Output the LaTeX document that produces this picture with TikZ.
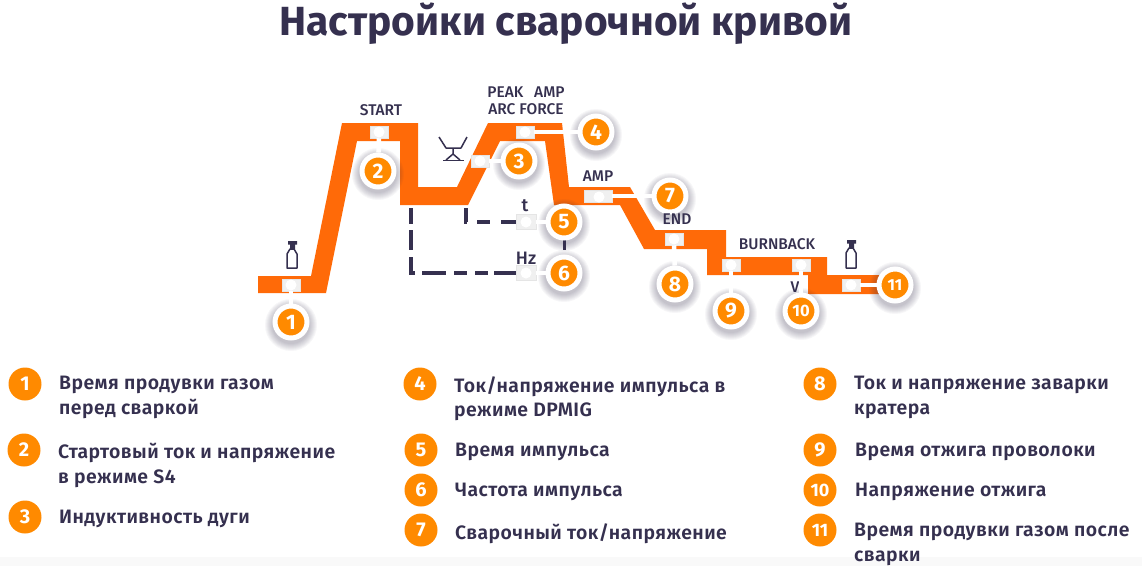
\documentclass[tikz,border=0pt]{standalone}
\usepackage{fontspec}
\setmainfont{Fira Sans}
\newfontfamily\legendf[LetterSpace=2.3,UprightFont=* SemiBold]{Fira Sans}
\newfontfamily\tagf[UprightFont=* Medium]{Fira Sans}
\definecolor{ink}{HTML}{35304F}
\definecolor{curve}{HTML}{FF6A08}
\definecolor{badge}{HTML}{FF8A00}
\tikzset{
  x=1pt,y=-1pt,
  callout/.style={circle,fill=badge,draw=white,line width=5pt,minimum size=32pt,inner sep=0pt,text=white,
    font=\fontsize{21}{21}\selectfont\bfseries},
  legendnum/.style={circle,fill=badge,minimum size=33pt,inner sep=0pt,text=white,font=\fontsize{20}{20}\selectfont\bfseries},
  legendtext/.style={anchor=north west,inner sep=0pt,text=ink,align=left,font=\legendf\fontsize{19.4}{24.5}\selectfont},
  tag/.style={text=ink,inner sep=0pt,font=\tagf\fontsize{15.5}{18}\selectfont},
  port/.style={rectangle,fill=black!6,draw=black!10,line width=.5pt,minimum width=18pt,minimum height=12pt,inner sep=0pt},
  stem/.style={draw=white,line width=4.5pt},
  dashline/.style={draw=ink,line width=3.4pt},
  icon/.style={draw=ink,line width=1.5pt,line join=round},
}
\newcommand{\portdot}[1]{\fill[white] (#1) circle (5.5pt);}
\newcommand{\halo}[2]{\foreach \r in {19,20,...,26}{\fill[ink,opacity=.04] (#1,#2+3) circle (\r pt);}}
\begin{document}
\begin{tikzpicture}
\useasboundingbox (0,0) rectangle (1142,566);
\fill[white] (0,0) rectangle (1142,566);
\fill[black!2.5] (0,557) rectangle (1142,566);

\node[text=ink,font=\fontsize{40.7}{41}\bfseries\selectfont] (title) at (566,24) {Настройки сварочной кривой};

% dashed links (behind)
\coordinate (d1) at (411,208);
\coordinate (d2) at (466,208);
\node[port,minimum width=20pt,minimum height=15pt] (p5) at (526,222) {};
\node[port,minimum width=20pt,minimum height=15pt] (p6) at (526,273) {};
\draw[dashline,dash pattern=on 16pt off 6pt on 20pt off 7pt on 20pt off 7pt on 24pt off 8pt on 13pt off 8pt on 13pt off 6pt on 14pt off 0pt] (d1) |- (p6.west);
\draw[dashline,dash pattern=on 15pt off 10pt on 13pt off 11pt on 13pt off 0pt] (d2) |- (p5.west);

% welding curve
\fill[curve] (258,276) -- (311,276) -- (342,123) -- (418,123) -- (418,187) -- (457,187) -- (488,123) -- (562,123) -- (569,187) -- (630,187) -- (655,230) -- (726,230) -- (726,257) -- (827,257) -- (827,275) -- (880,275) -- (880,294) -- (808,294) -- (808,275) -- (707,275) -- (707,249) -- (644,249) -- (620,205) -- (554,205) -- (545,141) -- (500,141) -- (468,205) -- (400,205) -- (400,141) -- (357,141) -- (326,293) -- (258,293) -- cycle;

% ports
\node[port] (p1) at (291,285) {};
\node[port] (p2) at (379,132) {};
\node[port] (p3) at (480,161) {};
\node[port] (p4) at (525,132) {};
\node[port,minimum width=28pt] (p7) at (598,196) {};
\node[port] (p8) at (674,239) {};
\node[port] (p9) at (731,265) {};
\node[port] (p10) at (801,265) {};
\node[port] (p11) at (851,285) {};

\node[tag] (vv) at (795,287) {V};

% callouts
\halo{291}{322}\node[callout] (c1) at (291,322) {1};
\halo{378}{171}\node[callout] (c2) at (378,171) {2};
\halo{519}{161}\node[callout] (c3) at (519,161) {3};
\halo{596}{132}\node[callout] (c4) at (596,132) {4};
\draw[draw=ink,line width=3pt] (564,238) -- (564,250);
\halo{564}{222}\node[callout] (c5) at (564,222) {5};
\halo{564}{273}\node[callout] (c6) at (564,273) {6};
\halo{670}{196}\node[callout] (c7) at (670,196) {7};
\halo{675}{284}\node[callout] (c8) at (675,284) {8};
\halo{731}{311}\node[callout] (c9) at (731,311) {9};
\halo{801}{311}\node[callout,font=\fontsize{16.5}{16.5}\selectfont\bfseries] (c10) at (801,311) {10};
\halo{895}{285}\node[callout,font=\fontsize{16}{16}\selectfont\bfseries] (c11) at (895,285) {11};

% stems
\draw[stem] (p1) -- (c1);
\draw[stem] (p2) -- (c2);
\draw[stem] (p3) -- (c3);
\draw[stem] (p4) -- (c4);
\draw[stem] (p5) -- (c5);
\draw[stem] (p6) -- (c6);
\draw[stem] (p7) -- (c7);
\draw[stem] (p8) -- (c8);
\draw[stem] (p9) -- (c9);
\draw[stem] (p10) -- (c10);
\draw[stem] (p11) -- (c11);
\portdot{p1}\portdot{p2}\portdot{p3}\portdot{p4}\portdot{p5}\portdot{p6}\portdot{p8}\portdot{p9}\portdot{p10}\portdot{p11}
\fill[white] (599,197) circle (5.5pt);

% labels
\node[tag] (lstart) at (381,110) {START};
\node[tag] (lpeak) at (526,92) {PEAK\hspace{.7em}AMP};
\node[tag] (larc) at (526,109) {ARC FORCE};
\node[tag] (lamp) at (598,176) {AMP};
\node[tag] (lend) at (677,219) {END};
\node[tag] (lburn) at (777,244) {BURNBACK};
\node[tag,font=\tagf\fontsize{18}{18}\selectfont] (lt) at (525,206) {t};
\node[tag,font=\tagf\fontsize{18}{18}\selectfont] (lhz) at (526,258) {Hz};

% icons
\draw[icon] (287,268) -- (287,254) -- (290,249) -- (294,249) -- (297,254) -- (297,268) -- cycle;
\fill[ink] (290,243) rectangle (295,249) (288,241) rectangle (297,244.5);
\draw[icon] (846,268) -- (846,253) -- (849,248) -- (853,248) -- (856,253) -- (856,268) -- cycle;
\fill[ink] (849,242) rectangle (854,248) (847,240) rectangle (856,243.5);
\draw[icon] (439,137) -- (446,148) -- (461,148) -- (467,137);
\draw[icon] (453,148) -- (453,154) (453,154) -- (446,160) (453,154) -- (460,160);
\draw[icon] (443,160.5) -- (464,160.5);

% legend
\node[legendnum] (n1) at (25,384) {1};
\node[legendnum] (n2) at (24,450) {2};
\node[legendnum] (n3) at (25,517) {3};
\node[legendnum] (n4) at (420,384) {4};
\node[legendnum] (n5) at (421,450) {5};
\node[legendnum] (n6) at (421,490) {6};
\node[legendnum] (n7) at (421,530) {7};
\node[legendnum] (n8) at (820,384) {8};
\node[legendnum] (n9) at (820,450) {9};
\node[legendnum,font=\fontsize{18}{18}\selectfont\bfseries] (n10) at (820,490) {10};
\node[legendnum,font=\fontsize{18}{18}\selectfont\bfseries] (n11) at (820,530) {11};

\node[legendtext] (t1) at (59,376) {Время продувки газом\\перед сваркой};
\node[legendtext] (t2) at (58,443) {Стартовый ток и напряжение\\в режиме S4};
\node[legendtext] (t3) at (59,510) {Индуктивность дуги};
\node[legendtext] (t4) at (454,376) {Ток/напряжение импульса в\\режиме DPMIG};
\node[legendtext] (t5) at (455,443) {Время импульса};
\node[legendtext] (t6) at (455,483) {Частота импульса};
\node[legendtext] (t7) at (455,523) {Сварочный ток/напряжение};
\node[legendtext] (t8) at (854,376) {Ток и напряжение заварки\\кратера};
\node[legendtext] (t9) at (855,443) {Время отжига проволоки};
\node[legendtext] (t10) at (855,483) {Напряжение отжига};
\node[legendtext] (t11) at (854,523) {Время продувки газом после\\сварки};
\end{tikzpicture}
\end{document}
